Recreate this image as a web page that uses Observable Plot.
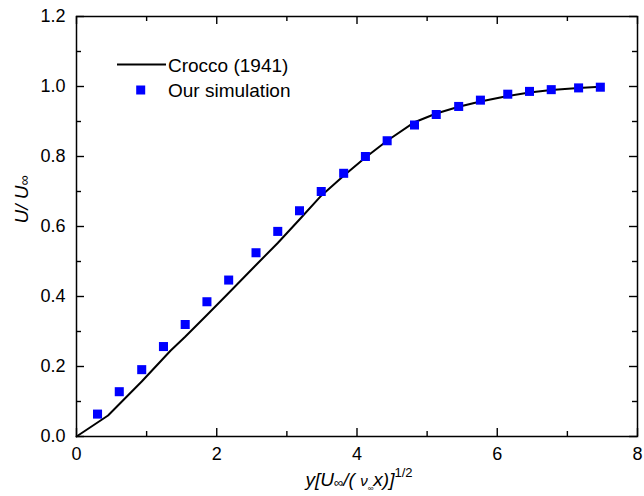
<!DOCTYPE html>
<html><head><meta charset="utf-8">
<script src="https://cdn.jsdelivr.net/npm/d3@7"></script>
<script src="https://cdn.jsdelivr.net/npm/@observablehq/plot@0.6"></script>
<style>body{margin:0;background:#fff;}</style>
</head><body><div id="chart"></div>
<script>
// Our simulation (blue squares)
const simX = [0.30, 0.61, 0.93, 1.24, 1.55, 1.86, 2.17, 2.56, 2.87, 3.18, 3.49, 3.81, 4.12, 4.43, 4.82, 5.13, 5.45, 5.76, 6.15, 6.46, 6.77, 7.16, 7.47];
const simY = [0.064, 0.128, 0.191, 0.257, 0.320, 0.385, 0.447, 0.525, 0.586, 0.645, 0.700, 0.752, 0.800, 0.845, 0.890, 0.920, 0.943, 0.961, 0.978, 0.986, 0.991, 0.996, 0.998];
// Crocco (1941) curve
const crX = [0, 0.45, 0.93, 1.34, 1.55, 1.86, 2.17, 2.56, 2.87, 3.18, 3.49, 3.81, 4.12, 4.43, 4.82, 5.13, 5.45, 5.76, 6.15, 6.46, 6.77, 7.16, 7.47];
const crY = [0, 0.060, 0.157, 0.245, 0.285, 0.347, 0.410, 0.490, 0.553, 0.620, 0.688, 0.745, 0.797, 0.845, 0.898, 0.923, 0.942, 0.957, 0.973, 0.983, 0.990, 0.996, 0.999];
// ticks
const xMajor = [0, 2, 4, 6, 8];
const xMinor = [1, 3, 5, 7];
const yMajor = [0, 0.2, 0.4, 0.6, 0.8, 1.0, 1.2];
const yMinor = [0.1, 0.3, 0.5, 0.7, 0.9, 1.1];
const seriesNames = ["Crocco (1941)", "Our simulation"];
const xLabel = "y[U∞/(ν∞x)]1/2";
const yLabel = "U/ U∞";

const sim = simX.map((x, i) => ({x, y: simY[i]}));
const cr = crX.map((x, i) => ({x, y: crY[i]}));

const font = "'Liberation Sans', Arial, sans-serif";
const blue = "#0000ff";
const sw = 1.4;
const W = 644, H = 496, mL = 76, mR = 7, mT = 16, mB = 60;
const fw = W - mL - mR, fh = H - mT - mB;
const major = 8, minor = 5;

const chart = Plot.plot({
  width: W, height: H,
  marginLeft: mL, marginRight: mR, marginTop: mT, marginBottom: mB,
  style: {fontFamily: font, fontSize: "18px", color: "#000", background: "#fff"},
  x: {domain: [0, 8]},
  y: {domain: [0, 1.2]},
  marks: [
    Plot.frame({stroke: "#000", strokeWidth: 1.5}),
    // tick labels
    Plot.axisX({ticks: xMajor, tickSize: 0, tickPadding: 11, tickFormat: d3.format("d"), label: null, fontSize: 18}),
    Plot.axisY({ticks: yMajor, tickSize: 0, tickPadding: 11, tickFormat: d3.format(".1f"), label: null, fontSize: 18}),
    // inward ticks: bottom, top, left, right
    Plot.tickX(xMajor, {x: d => d, insetTop: fh - major, stroke: "#000", strokeWidth: sw}),
    Plot.tickX(xMinor, {x: d => d, insetTop: fh - minor, stroke: "#000", strokeWidth: sw}),
    Plot.tickX(xMajor, {x: d => d, insetBottom: fh - major, stroke: "#000", strokeWidth: sw}),
    Plot.tickX(xMinor, {x: d => d, insetBottom: fh - minor, stroke: "#000", strokeWidth: sw}),
    Plot.tickY(yMajor, {y: d => d, insetRight: fw - major, stroke: "#000", strokeWidth: sw}),
    Plot.tickY(yMinor, {y: d => d, insetRight: fw - minor, stroke: "#000", strokeWidth: sw}),
    Plot.tickY(yMajor, {y: d => d, insetLeft: fw - major, stroke: "#000", strokeWidth: sw}),
    Plot.tickY(yMinor, {y: d => d, insetLeft: fw - minor, stroke: "#000", strokeWidth: sw}),
    Plot.line(cr, {x: "x", y: "y", stroke: "#000", strokeWidth: 2}),
    Plot.dot(sim, {x: "x", y: "y", symbol: "square", r: 5.1, fill: blue, stroke: null}),
    Plot.text([yLabel], {frameAnchor: "left", dx: -55, dy: -3, rotate: -90, text: d => d, fontSize: 19, fontStyle: "italic"}),
    Plot.text([xLabel], {frameAnchor: "bottom", dy: 49, dx: 2, text: d => d, fontSize: 19, fontStyle: "italic"})
  ]
});
document.getElementById("chart").append(chart);

const svg = d3.select(chart);
// rich text for axis labels
function rebuild(sel, parts) {
  sel.text(null);
  for (const p of parts) {
    const ts = sel.append("tspan").text(p.t);
    if (p.size) ts.attr("font-size", p.size);
    if (p.dy) ts.attr("dy", p.dy);
    if (p.style) ts.attr("font-style", p.style);
  }
}
const byText = s => svg.selectAll("text").filter(function() { return this.textContent === s; });
rebuild(byText(yLabel), [{t: "U/ U"}, {t: "∞", size: 14, style: "normal", dy: 1}]);
rebuild(byText(xLabel), [
  {t: "y[U"}, {t: "∞", size: 13, style: "normal", dy: 1}, {t: "/( ", dy: -1}, {t: "ν", size: 15},
  {t: "∞", size: 8, style: "normal", dy: 5}, {t: "x)]", dy: -5},
  {t: "1/2", size: 13, style: "normal", dy: -9}
]);

// legend
const lg = svg.append("g").attr("font-family", font).attr("font-size", 19).attr("text-anchor", "start");
lg.append("line").attr("x1", 117).attr("x2", 166).attr("y1", 64.5).attr("y2", 64.5).attr("stroke", "#000").attr("stroke-width", 2);
lg.append("text").attr("x", 168).attr("y", 65).attr("dy", "0.35em").text(seriesNames[0]);
lg.append("rect").attr("x", 136.2).attr("y", 85.5).attr("width", 9).attr("height", 9).attr("fill", blue);
lg.append("text").attr("x", 168).attr("y", 90).attr("dy", "0.35em").text(seriesNames[1]);
</script>
</body></html>
